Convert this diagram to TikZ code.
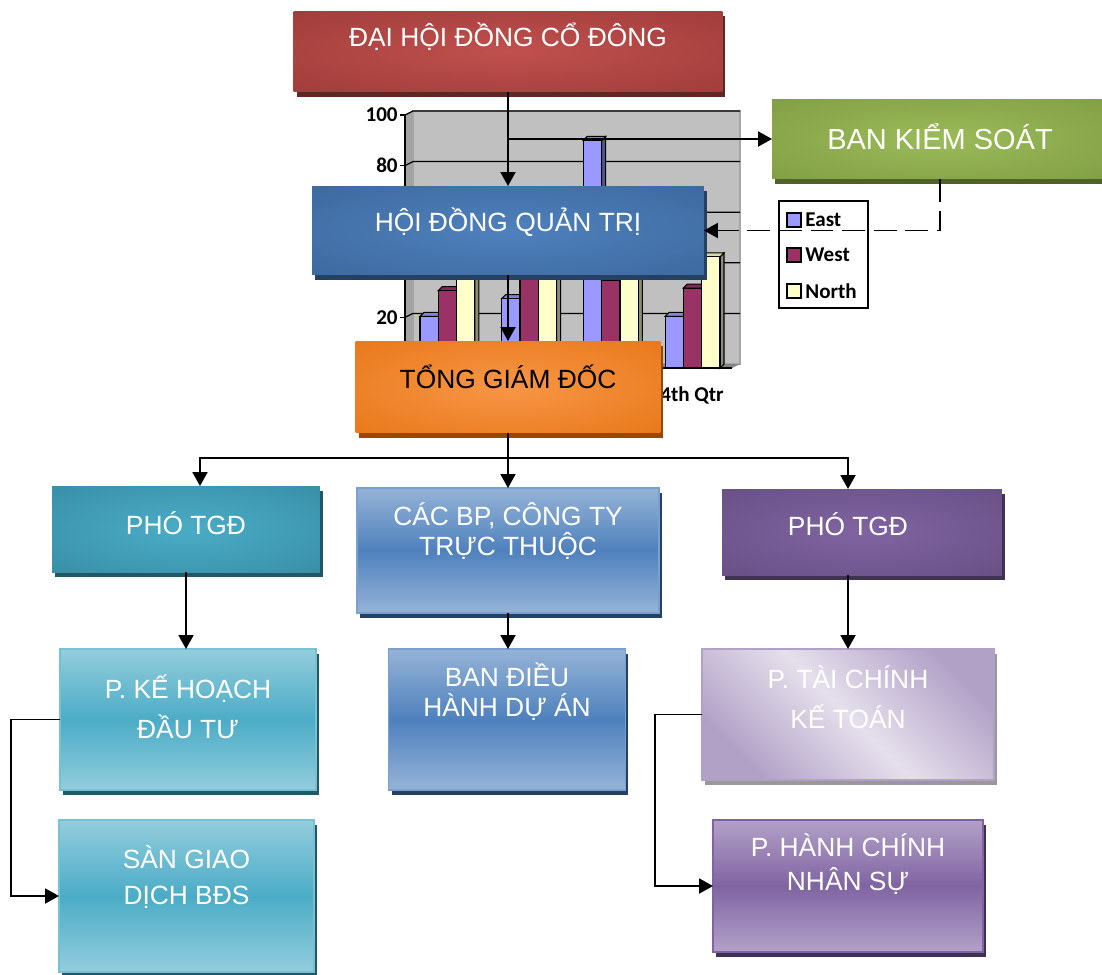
\documentclass[tikz,border=0pt]{standalone}
\usepackage{fontspec}
\setmainfont{Liberation Sans}
\newfontfamily\chartfont{Carlito}
\usepackage{tikz}
\usetikzlibrary{positioning,calc,arrows.meta,shadows}
\definecolor{redin}{HTML}{C0504D}
\definecolor{redout}{HTML}{943634}
\definecolor{redsh}{HTML}{632523}
\definecolor{bluein}{HTML}{4F81BD}
\definecolor{blueout}{HTML}{366092}
\definecolor{bluesh}{HTML}{244062}
\definecolor{greenin}{HTML}{9BBB59}
\definecolor{greenout}{HTML}{77933C}
\definecolor{greensh}{HTML}{4F6228}
\definecolor{orangein}{HTML}{F79646}
\definecolor{orangeout}{HTML}{E36C09}
\definecolor{orangesh}{HTML}{974806}
\definecolor{tealin}{HTML}{4BACC6}
\definecolor{tealout}{HTML}{31849B}
\definecolor{tealsh}{HTML}{205867}
\definecolor{purplein}{HTML}{8064A2}
\definecolor{purpleout}{HTML}{5F497A}
\definecolor{purplesh}{HTML}{3F3151}
\definecolor{paleblue}{HTML}{95B3D7}
\definecolor{paleteal}{HTML}{93CDDD}
\definecolor{palelilac}{HTML}{E5E0EC}
\definecolor{lilac}{HTML}{B2A1C7}
\definecolor{chartgray}{HTML}{C0C0C0}
\definecolor{eastbar}{HTML}{9999FF}
\definecolor{westbar}{HTML}{993366}
\definecolor{northbar}{HTML}{FFFFCC}
\pgfdeclareradialshading{redglow}{\pgfpointorigin}{color(0bp)=(redin); color(50bp)=(redout)}
\pgfdeclareradialshading{blueglow}{\pgfpointorigin}{color(0bp)=(bluein); color(50bp)=(blueout)}
\pgfdeclareradialshading{greenglow}{\pgfpointorigin}{color(0bp)=(greenin); color(50bp)=(greenout)}
\pgfdeclareradialshading{orangeglow}{\pgfpointorigin}{color(0bp)=(orangein); color(50bp)=(orangeout)}
\pgfdeclareradialshading{tealglow}{\pgfpointorigin}{color(0bp)=(tealin); color(50bp)=(tealout)}
\pgfdeclareradialshading{purpleglow}{\pgfpointorigin}{color(0bp)=(purplein); color(50bp)=(purpleout)}

\begin{document}
\begin{tikzpicture}[
      x=0.02cm, y=-0.02cm,
      unit/.style={rectangle, inner sep=0pt, outer sep=0pt},
      shadowed/.style={drop shadow={shadow xshift=0.06cm, shadow yshift=-0.1cm, fill=#1, opacity=1}},
      glow/.style={unit, shade, shading=#1},
      redunit/.style={glow=redglow, shadowed=redsh},
      blueunit/.style={glow=blueglow, shadowed=bluesh},
      greenunit/.style={glow=greenglow, shadowed=greensh},
      orangeunit/.style={glow=orangeglow, shadowed=orangesh},
      tealunit/.style={glow=tealglow, shadowed=tealsh},
      purpleunit/.style={glow=purpleglow, shadowed=purplesh},
      paleblueunit/.style={unit, draw=bluein!75!white, line width=0.9pt, top color=paleblue,
        bottom color=paleblue, middle color=bluein, shadowed=bluesh},
      paletealunit/.style={unit, draw=tealin!75!white, line width=0.9pt, top color=paleteal,
        bottom color=paleteal, middle color=tealin, shadowed=tealsh},
      lilacunit/.style={unit, draw=lilac, line width=0.9pt, top color=lilac,
        bottom color=lilac, middle color=palelilac, shading angle=-45, shadowed=black!40},
      palepurpleunit/.style={unit, draw=purplein, line width=0.9pt, top color=lilac,
        bottom color=lilac, middle color=purplein, shadowed=purplesh},
      ttl/.style={font=\fontsize{15}{17}\selectfont, text=white, align=center, inner sep=0pt},
      axlbl/.style={font=\chartfont\bfseries\fontsize{12}{14}\selectfont, inner sep=0pt},
      grid/.style={black, line width=0.7pt},
      bar/.style={draw=black, line width=0.6pt},
      link/.style={draw=black, line width=1.1pt},
      conn/.style={link, -{Triangle[length=2.8mm, width=3mm]}},
      dashlink/.style={conn, dash pattern=on 13pt off 5pt}
    ]
    \useasboundingbox[fill=white] (0,0) rectangle (1102,974);
    % ---------------- chart behind ----------------
    \fill[chartgray] (413,111) rectangle (740,364);
    \draw[black!35, line width=0.8pt] (413,111) rectangle (740,364);
    \fill[chartgray!85!black] (405,115) -- (413,111) -- (413,364) -- (405,368) -- cycle;
    \fill[chartgray!70!black] (405,368) -- (413,364) -- (740,364) -- (732,368) -- cycle;
    \foreach \v in {20,40,60,80,100}{
      \pgfmathsetmacro{\gy}{368-2.53*\v}
      \draw[grid] (405,\gy) -- (413,\gy-4) -- (740,\gy-4);
      \draw[grid] (400,\gy) -- (405,\gy);
    }
    \draw[grid] (405,115) -- (405,368) -- (732,368);
    \foreach \q/\ve/\vw/\vn in {0/20.4/30.6/45.9, 1/27.4/38.6/46.9, 2/90/34.6/45, 3/20.4/31.6/43.9}
      \foreach \s/\v/\c in {0/\ve/eastbar, 1/\vw/westbar, 2/\vn/northbar}{
        \pgfmathsetmacro{\bx}{420+81.7*\q+18.3*\s}
        \pgfmathsetmacro{\by}{368-2.53*\v}
        \draw[bar, fill=\c!55!black] (\bx+18.3,368) -- (\bx+18.3,\by) -- ++(4,-4) -- (\bx+22.3,364) -- cycle;
        \draw[bar, fill=\c!85!black] (\bx,\by) -- ++(4,-4) -- ++(18.3,0) -- ++(-4,4) -- cycle;
        \draw[bar, fill=\c] (\bx,368) rectangle (\bx+18.3,\by);
      }
    \node[axlbl, anchor=east] (y100) at (398,115) {100};
    \node[axlbl, anchor=east] (y80) at (398,165) {80};
    \node[axlbl, anchor=east] (y20) at (398,318) {20};
    \node[axlbl] (q4) at (692,395) {4th Qtr};
    % legend
    \draw[fill=white, line width=0.9pt] (779,201) rectangle (868,308);
    \draw[line width=0.8pt, fill=eastbar] (787,213) rectangle (801,227);
    \draw[line width=0.8pt, fill=westbar] (787,248) rectangle (801,262);
    \draw[line width=0.8pt, fill=northbar] (787,284) rectangle (801,298);
    \node[axlbl, anchor=west] (legE) at (805,220) {East};
    \node[axlbl, anchor=west] (legW) at (805,255) {West};
    \node[axlbl, anchor=west] (legN) at (805,291) {North};
    % ---------------- boxes ----------------
    \node[redunit, minimum width=8.58cm, minimum height=1.62cm] (dhd) at (508,51.5) {};
    \node[ttl] (dhdT) at ($(dhd.north)+(0,26)$) {ĐẠI HỘI ĐỒNG CỔ ĐÔNG};
    \node[blueunit, minimum width=7.84cm, minimum height=1.78cm] (hdqt) at (508,230.5) {};
    \node[ttl] (hdqtT) at ($(hdqt.north)+(0,36)$) {HỘI ĐỒNG QUẢN TRỊ};
    \node[greenunit, minimum width=6.72cm, minimum height=1.6cm] (bks) at (940,139) {};
    \node[ttl, font=\fontsize{16.5}{19}\selectfont] (bksT) at ($(bks.north)+(0,38)$) {BAN KIỂM SOÁT};
    \node[orangeunit, minimum width=6.1cm, minimum height=1.84cm] (tgd) at (508,387) {};
    \node[ttl, text=black] (tgdT) at ($(tgd.north)+(0,36)$) {TỔNG GIÁM ĐỐC};
    \node[tealunit, minimum width=5.36cm, minimum height=1.72cm] (pL) at (186,529) {};
    \node[ttl] (pLT) at ($(pL.north)+(0,37)$) {PHÓ TGĐ};
    \node[paleblueunit, minimum width=6.04cm, minimum height=2.5cm] (bp) at (508,550.5) {};
    \node[ttl] (bpT) at ($(bp.north)+(0,43)$) {CÁC BP, CÔNG TY\\TRỰC THUỘC};
    \node[purpleunit, minimum width=5.6cm, minimum height=1.72cm] (pR) at (862,532) {};
    \node[ttl] (pRT) at ($(pR.north)+(-14,35)$) {PHÓ TGĐ};
    \node[paletealunit, minimum width=5.12cm, minimum height=2.82cm] (kh) at (188,719.5) {};
    \node[ttl] (khT) at ($(kh.north)+(0,58)$) {P. KẾ HOẠCH\\[6pt]ĐẦU TƯ};
    \node[paletealunit, minimum width=5.1cm, minimum height=3.04cm] (sgd) at (186.5,896) {};
    \node[ttl] (sgdT) at ($(sgd.north)+(0,57)$) {SÀN GIAO\\[3pt]DỊCH BĐS};
    \node[paleblueunit, minimum width=4.74cm, minimum height=2.82cm] (bdh) at (507,719.5) {};
    \node[ttl] (bdhT) at ($(bdh.north)+(0,43)$) {BAN ĐIỀU\\HÀNH DỰ ÁN};
    \node[lilacunit, minimum width=5.84cm, minimum height=2.62cm] (tc) at (848,714.5) {};
    \node[ttl] (tcT) at ($(tc.north)+(0,48)$) {P. TÀI CHÍNH\\[6pt]KẾ TOÁN};
    \node[palepurpleunit, minimum width=5.4cm, minimum height=2.64cm] (hc) at (848,886) {};
    \node[ttl] (hcT) at ($(hc.north)+(0,44)$) {P. HÀNH CHÍNH\\[2pt]NHÂN SỰ};
    % ---------------- connectors ----------------
    \draw[conn] (dhd.south) -- (hdqt.north);
    \draw[conn] (dhd.south |- bks.west) -- (bks.west);
    \draw[dashlink] (bks.south) |- (hdqt.east);
    \draw[conn] (hdqt.south) -- (tgd.north);
    \draw[link] (tgd.south) -- ++(0,25) coordinate (bus);
    \draw[conn] (bus) -| ($(pL.north)+(14,0)$);
    \draw[conn] (bus) -- (bp.north);
    \draw[conn] (bus) -| (pR.north -| tc.north);
    \draw[conn] (pL.south) -- (pL.south |- kh.north);
    \draw[conn] (bp.south) -- (bp.south |- bdh.north);
    \draw[conn] (pR.south -| tc.north) -- (tc.north);
    \draw[conn] (kh.west) -- ++(-49,0) |- (sgd.west);
    \draw[conn] (tc.west) -- ++(-47,0) |- (hc.west);
  \end{tikzpicture}
\end{document}
